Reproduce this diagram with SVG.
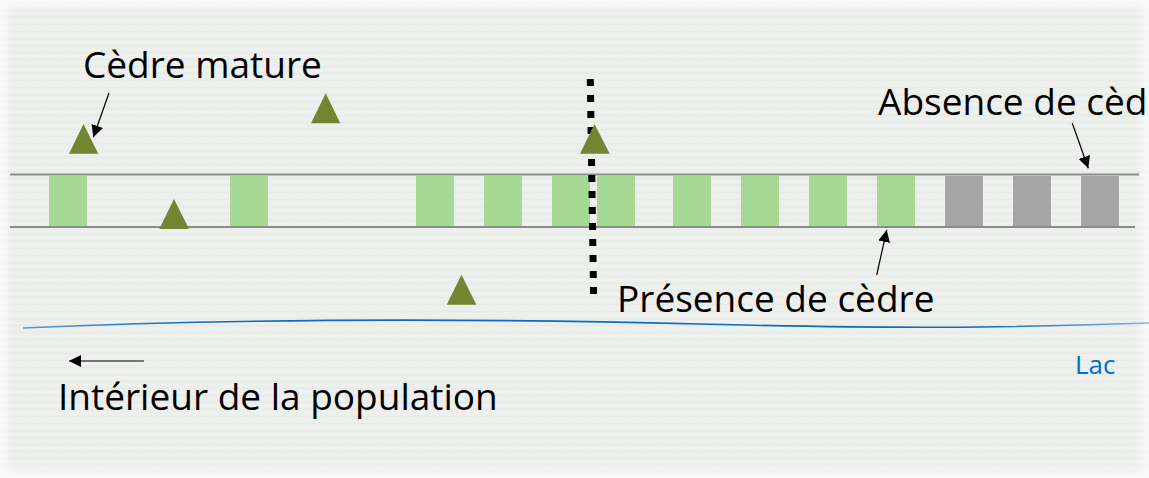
<svg xmlns="http://www.w3.org/2000/svg" width="1149" height="478" viewBox="0 0 1149 478">
  <defs>
    <style>
      .label { font-family: "Open Sans", "Noto Sans", "Liberation Sans", sans-serif; font-size: 37px; fill: #000; }
      .lake { font-family: "Open Sans", "Noto Sans", "Liberation Sans", sans-serif; font-size: 26px; fill: #0070c0; }
      .band { stroke: #8c8c8c; stroke-width: 2; fill: none; }
      .present { fill: #a6da94; }
      .absent { fill: #a5a5a5; }
      .tree { fill: #728530; }
      .pointer { stroke: #000; stroke-width: 1.2; fill: none; marker-end: url(#head); }
    </style>
    <pattern id="zigzag" width="7" height="7" patternUnits="userSpaceOnUse">
      <rect width="7" height="7" fill="#eef0ee"/>
      <path d="M0 4.5 L1.75 2.5 L3.5 4.5 L5.25 2.5 L7 4.5" stroke="#e2e4e2" stroke-width="0.9" fill="none"/>
    </pattern>
    <filter id="soft" x="-5%" y="-5%" width="110%" height="110%">
      <feGaussianBlur stdDeviation="4"/>
    </filter>
    <linearGradient id="shore" x1="0" y1="0" x2="1" y2="0">
      <stop offset="0" stop-color="#5b9bd5"/>
      <stop offset="0.15" stop-color="#0a6cc4"/>
      <stop offset="0.85" stop-color="#0a6cc4"/>
      <stop offset="1" stop-color="#7fb2e0"/>
    </linearGradient>
    <marker id="head" viewBox="0 0 10 10" refX="10" refY="5" markerWidth="12" markerHeight="12" markerUnits="userSpaceOnUse" orient="auto">
      <path d="M0 0 L10 5 L0 10 Z" fill="#000"/>
    </marker>
  </defs>

  <!-- textured backdrop with a pale rim -->
  <rect width="1149" height="478" fill="url(#zigzag)"/>
  <rect x="0" y="0" width="1149" height="478" fill="none" stroke="#ffffff" stroke-width="12" opacity="0.75" filter="url(#soft)"/>

  <!-- shoreline -->
  <path d="M23 328 C 250 318, 500 319, 700 324 S 1000 328, 1149 323" stroke="url(#shore)" stroke-width="1.6" fill="none"/>

  <!-- transect band -->
  <g id="transect">
    <line class="band" x1="10" y1="174.5" x2="1139" y2="174.5"/>
    <line class="band" x1="10" y1="227" x2="1135" y2="227"/>
    <rect class="present" x="49" y="176" width="38" height="50"/>
    <rect class="present" x="230" y="176" width="38" height="50"/>
    <rect class="present" x="416" y="176" width="38" height="50"/>
    <rect class="present" x="484" y="176" width="38" height="50"/>
    <rect class="present" x="552" y="176" width="38" height="50"/>
    <rect class="present" x="597" y="176" width="38" height="50"/>
    <rect class="present" x="673" y="176" width="38" height="50"/>
    <rect class="present" x="741" y="176" width="38" height="50"/>
    <rect class="present" x="809" y="176" width="38" height="50"/>
    <rect class="present" x="877" y="176" width="38" height="50"/>
    <rect class="absent" x="945" y="176" width="38" height="50"/>
    <rect class="absent" x="1013" y="176" width="38" height="50"/>
    <rect class="absent" x="1081" y="176" width="38" height="50"/>
  </g>

  <!-- mature cedars -->
  <g id="trees">
    <polygon class="tree" points="83.5,124 69,153.7 98.3,153.7"/>
    <polygon class="tree" points="174,199 159.3,229 189,229"/>
    <polygon class="tree" points="325.7,93.3 311,123.3 340.3,123.3"/>
    <polygon class="tree" points="461.5,274.7 446.7,304.7 476.3,304.7"/>
  </g>

  <!-- boundary line -->
  <g id="boundary">
    <line x1="590.3" y1="79" x2="593.6" y2="296" stroke="#000" stroke-width="7" stroke-dasharray="7 9"/>
  </g>
  <g id="tree-on-boundary">
    <polygon class="tree" points="594.5,124 580,153.7 609.7,153.7"/>
  </g>

  <!-- labels -->
  <g id="label-mature"><text class="label" x="83" y="78">Cèdre mature</text></g>
  <g id="label-absence"><text class="label" x="878" y="115">Absence de cèdre</text></g>
  <g id="label-presence"><text class="label" x="617" y="312">Présence de cèdre</text></g>
  <g id="label-interior"><text class="label" x="58" y="410">Intérieur de la population</text></g>
  <g id="label-lake"><text class="lake" x="1075" y="374">Lac</text></g>

  <!-- pointers -->
  <g id="connectors">
    <line class="pointer" x1="109" y1="93" x2="93.3" y2="137.3"/>
    <line class="pointer" x1="1072.3" y1="123.3" x2="1088.3" y2="168.3"/>
    <line class="pointer" x1="876.7" y1="275" x2="886.7" y2="230"/>
    <line class="pointer" x1="144" y1="361" x2="69" y2="361"/>
  </g>
</svg>
